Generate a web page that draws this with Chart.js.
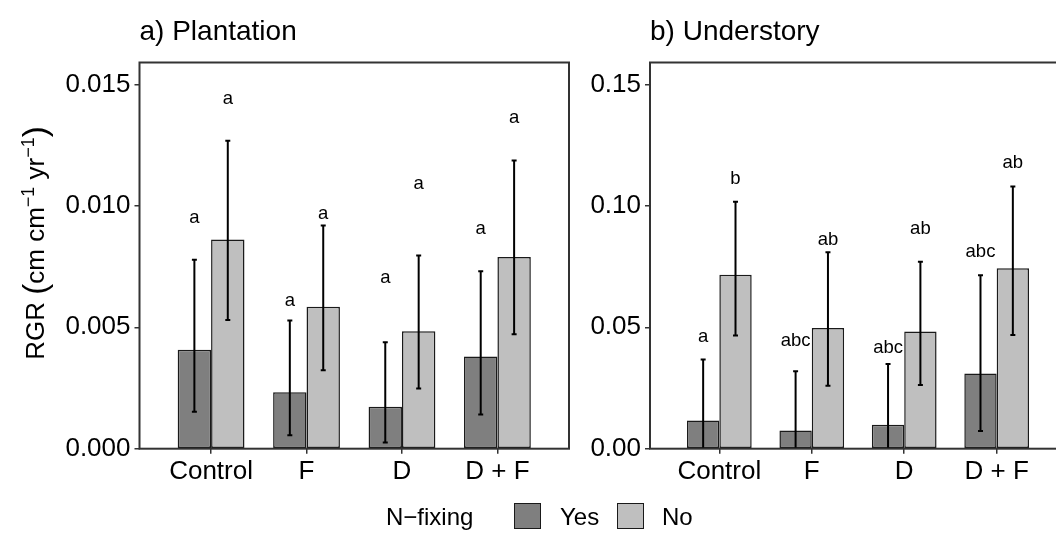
<!DOCTYPE html>
<html>
<head>
<meta charset="utf-8">
<script src="https://cdn.jsdelivr.net/npm/chart.js@4.4.1/dist/chart.umd.min.js"></script>
<style>
html,body{margin:0;padding:0;background:#fff;}
body{width:1056px;height:536px;overflow:hidden;position:relative;font-family:"Liberation Sans",Arial,Helvetica,sans-serif;}
.wrap{position:absolute;left:0;top:0;width:1080px;height:536px;}
.lg-text{position:absolute;font-size:24px;line-height:24px;color:#000;white-space:nowrap;}
.lg-box{position:absolute;width:27px;height:26px;border:1.5px solid #1a1a1a;box-sizing:border-box;}
</style>
</head>
<body>
<div class="wrap"><canvas id="cA" width="1080" height="536"></canvas></div>
<div class="wrap"><canvas id="cB" width="1080" height="536"></canvas></div>

<div class="lg-text" style="left:386px;top:505px;">N−fixing</div>
<div class="lg-box" style="left:514px;top:503px;background:#7f7f7f;"></div>
<div class="lg-text" style="left:560px;top:505px;">Yes</div>
<div class="lg-box" style="left:617px;top:503px;background:#bfbfbf;"></div>
<div class="lg-text" style="left:662px;top:505px;">No</div>

<script>
// ---------- DATA ----------
const categories = ['Control', 'F', 'D', 'D + F'];
const seriesNames = ['Yes', 'No'];

// a) Plantation
const plantYes      = [0.00407, 0.00232, 0.00173, 0.00380];
const plantNo       = [0.00861, 0.00584, 0.00484, 0.00789];
const plantYesLow   = [0.00152, 0.00055, 0.00026, 0.00141];
const plantYesHigh  = [0.00778, 0.00528, 0.00438, 0.00731];
const plantNoLow    = [0.00530, 0.00323, 0.00248, 0.00471];
const plantNoHigh   = [0.01268, 0.00919, 0.00795, 0.01187];
const plantYesLetters = ['a', 'a', 'a', 'a'];
const plantNoLetters  = ['a', 'a', 'a', 'a'];
const plantYesLetterY = [0.00951, 0.00610, 0.00702, 0.00905];
const plantNoLetterY  = [0.01439, 0.00967, 0.01091, 0.01360];
const plantYTicks = [0.000, 0.005, 0.010, 0.015];

// b) Understory
const underYes      = [0.0116, 0.00745, 0.0099, 0.0310];
const underNo       = [0.0716, 0.0497, 0.0483, 0.0743];
const underYesLow   = [0.0000, 0.0000, 0.0000, 0.0073];
const underYesHigh  = [0.0367, 0.0319, 0.0349, 0.0714];
const underNoLow    = [0.0466, 0.0259, 0.0262, 0.0468];
const underNoHigh   = [0.1017, 0.0809, 0.0770, 0.1080];
const underYesLetters = ['a', 'abc', 'abc', 'abc'];
const underNoLetters  = ['b', 'ab', 'ab', 'ab'];
const underYesLetterY = [0.0459, 0.0445, 0.0416, 0.0809];
const underNoLetterY  = [0.1112, 0.0861, 0.0905, 0.1178];
const underYTicks = [0.00, 0.05, 0.10, 0.15];

// ---------- STYLE ----------
const FONT = '"Liberation Sans", Arial, Helvetica, sans-serif';
Chart.defaults.font.family = FONT;
Chart.defaults.color = '#000';
const colYes = '#7f7f7f';
const colNo = '#bfbfbf';
const edge = '#1a1a1a';
const frame = '#333333';

function makePanel(canvasId, cfg) {
  const ds = (name, vals, col) => ({
    label: name,
    data: vals.map((v, i) => ({ x: i + 1, y: v })),
    backgroundColor: col,
    borderColor: edge,
    borderWidth: 1.5,
    borderSkipped: false,
    categoryPercentage: 0.7,
    barPercentage: 1.0
  });

  const panelPlugin = {
    id: 'panel_' + canvasId,
    afterDatasetsDraw(chart) {
      const ctx = chart.ctx;
      const ys = chart.scales.y;
      const ca = chart.chartArea;
      const errs = [[cfg.yesLow, cfg.yesHigh], [cfg.noLow, cfg.noHigh]];
      const letters = [[cfg.yesLetters, cfg.yesLetterY], [cfg.noLetters, cfg.noLetterY]];
      ctx.save();
      ctx.beginPath();
      ctx.rect(ca.left, ca.top, ca.right - ca.left, ca.bottom - ca.top);
      ctx.clip();
      for (let d = 0; d < 2; d++) {
        const meta = chart.getDatasetMeta(d);
        meta.data.forEach((bar, j) => {
          const x = bar.x;
          const lo = errs[d][0][j], hi = errs[d][1][j];
          const yHi = ys.getPixelForValue(hi);
          const yLo = ys.getPixelForValue(lo);
          ctx.strokeStyle = '#000';
          ctx.lineWidth = 2;
          ctx.beginPath();
          ctx.moveTo(x, yHi); ctx.lineTo(x, yLo);
          ctx.moveTo(x - 2.5, yHi); ctx.lineTo(x + 2.5, yHi);
          if (lo > 0) { ctx.moveTo(x - 2.5, yLo); ctx.lineTo(x + 2.5, yLo); }
          ctx.stroke();
          ctx.fillStyle = '#000';
          ctx.font = '18.5px ' + FONT;
          ctx.textAlign = 'center';
          ctx.textBaseline = 'middle';
          ctx.fillText(letters[d][0][j], x, ys.getPixelForValue(letters[d][1][j]));
        });
      }
      ctx.restore();
    },
    afterDraw(chart) {
      const ctx = chart.ctx;
      const ca = chart.chartArea;
      ctx.save();
      ctx.strokeStyle = frame;
      ctx.lineWidth = 2;
      ctx.strokeRect(ca.left, ca.top, ca.right - ca.left, ca.bottom - ca.top);
      ctx.fillStyle = '#000';
      ctx.font = '28px ' + FONT;
      ctx.textAlign = 'left';
      ctx.textBaseline = 'alphabetic';
      ctx.fillText(cfg.title, ca.left, 40);
      if (cfg.yTitle) {
        const parts = [
          { t: 'RGR ', s: 26, dy: 0 },
          { t: '(', s: 33, dy: 2 },
          { t: 'cm cm', s: 26, dy: 0 },
          { t: '−1', s: 18, dy: -10 },
          { t: ' yr', s: 26, dy: 0 },
          { t: '−1', s: 18, dy: -10 },
          { t: ')', s: 33, dy: 2 }
        ];
        let total = 0;
        parts.forEach(p => { ctx.font = p.s + 'px ' + FONT; p.w = ctx.measureText(p.t).width; total += p.w; });
        ctx.translate(44, 243);
        ctx.rotate(-Math.PI / 2);
        let x = -total / 2;
        parts.forEach(p => {
          ctx.font = p.s + 'px ' + FONT;
          ctx.fillText(p.t, x, p.dy);
          x += p.w;
        });
      }
      ctx.restore();
    }
  };

  return new Chart(document.getElementById(canvasId), {
    type: 'bar',
    data: {
      datasets: [ds(seriesNames[0], cfg.yes, colYes), ds(seriesNames[1], cfg.no, colNo)]
    },
    options: {
      responsive: false,
      animation: false,
      events: [],
      layout: { padding: cfg.padding },
      plugins: { legend: { display: false }, tooltip: { enabled: false }, title: { display: false } },
      scales: {
        x: {
          type: 'linear',
          min: 0.25,
          max: 4.75,
          offset: false,
          afterBuildTicks: s => { s.ticks = categories.map((c, i) => ({ value: i + 1 })); },
          afterFit: s => { s.height = 40; },
          ticks: {
            autoSkip: false, maxRotation: 0, minRotation: 0, padding: 3,
            font: { size: 26 }, color: '#000',
            callback: v => categories[Math.round(v) - 1]
          },
          grid: { offset: false, drawOnChartArea: false, drawTicks: true, tickLength: 5, color: frame, lineWidth: 1.5 },
          border: { display: false }
        },
        y: {
          type: 'linear',
          min: 0,
          max: cfg.yMax,
          afterBuildTicks: s => { s.ticks = cfg.yTicks.map(v => ({ value: v })); },
          afterFit: s => { s.width = cfg.yWidth; },
          ticks: {
            padding: 4, font: { size: 26 }, color: '#000',
            callback: v => v.toFixed(cfg.decimals)
          },
          grid: { offset: false, drawOnChartArea: false, drawTicks: true, tickLength: 5, color: frame, lineWidth: 1.5 },
          border: { display: false }
        }
      }
    },
    plugins: [panelPlugin]
  });
}

makePanel('cA', {
  title: 'a) Plantation', yTitle: true,
  yes: plantYes, no: plantNo,
  yesLow: plantYesLow, yesHigh: plantYesHigh, noLow: plantNoLow, noHigh: plantNoHigh,
  yesLetters: plantYesLetters, noLetters: plantNoLetters,
  yesLetterY: plantYesLetterY, noLetterY: plantNoLetterY,
  yTicks: plantYTicks, yMax: 0.0159, decimals: 3,
  yWidth: 139.5,
  padding: { left: 0, top: 62.5, right: 1080 - 569, bottom: 536 - 448.7 - 40 }
});

makePanel('cB', {
  title: 'b) Understory', yTitle: false,
  yes: underYes, no: underNo,
  yesLow: underYesLow, yesHigh: underYesHigh, noLow: underNoLow, noHigh: underNoHigh,
  yesLetters: underYesLetters, noLetters: underNoLetters,
  yesLetterY: underYesLetterY, noLetterY: underNoLetterY,
  yTicks: underYTicks, yMax: 0.159, decimals: 2,
  yWidth: 90,
  padding: { left: 560, top: 62.5, right: 14, bottom: 536 - 448.7 - 40 }
});
</script>
</body>
</html>
